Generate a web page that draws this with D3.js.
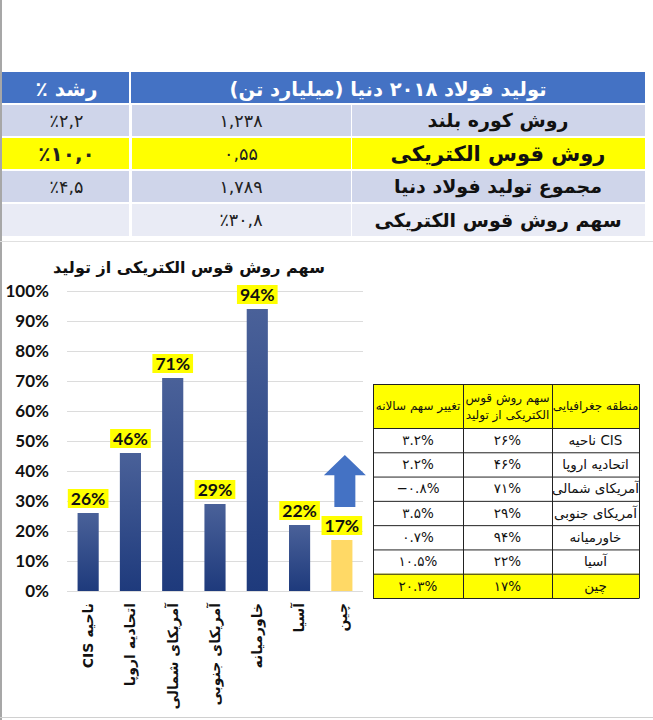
<!DOCTYPE html>
<html>
<head>
<meta charset="utf-8">
<script src="https://cdn.jsdelivr.net/npm/d3@7"></script>
<style>
  html, body { margin: 0; padding: 0; background: #fff; }
  svg { display: block; }
</style>
</head>
<body>
<svg id="chart" width="653" height="720"></svg>
<script>
// top table: world steel production 2018
const topHeader = ["تولید فولاد ۲۰۱۸ دنیا (میلیارد تن)", "رشد ٪"];
const methods = ["روش کوره بلند", "روش قوس الکتریکی", "مجموع تولید فولاد دنیا", "سهم روش قوس الکتریکی"];
const production = ["۱,۲۳۸", "۰,۵۵", "۱,۷۸۹", "٪۳۰,۸"];
const growth = ["٪۲,۲", "٪۱۰,۰", "٪۴,۵", ""];

// bar chart: share of electric arc furnace by region
const chartTitle = "سهم روش قوس الکتریکی از تولید";
const regions = ["ناحیه CIS", "اتحادیه اروپا", "آمریکای شمالی", "آمریکای جنوبی", "خاورمیانه", "آسیا", "چین"];
const eafShare = [26, 46, 71, 29, 94, 22, 17];
const yTicks = [0, 10, 20, 30, 40, 50, 60, 70, 80, 90, 100];

// right table
const sideHeader = ["تغییر سهم سالانه", ["سهم روش قوس", "الکتریکی از تولید"], "منطقه جغرافیایی"];
const shareFa = ["۲۶%", "۴۶%", "۷۱%", "۲۹%", "۹۴%", "۲۲%", "۱۷%"];
const shareChange = ["۳.۲%", "۲.۲%", "−۰.۸%", "۳.۵%", "۰.۷%", "۱۰.۵%", "۲۰.۳%"];

const svg = d3.select("#chart");
const faFont = "'DejaVu Sans', sans-serif";
const latFont = "Lato, 'DejaVu Sans', sans-serif";

// frame lines
svg.append("line").attr("x1", 1).attr("x2", 1).attr("y1", 0).attr("y2", 720)
  .attr("stroke", "#8a8a8a").attr("stroke-width", 1.5);
svg.append("line").attr("x1", 0).attr("x2", 653).attr("y1", 241.5).attr("y2", 241.5)
  .attr("stroke", "#e0e0e0");
svg.append("line").attr("x1", 0).attr("x2", 653).attr("y1", 717.5).attr("y2", 717.5)
  .attr("stroke", "#d0d0d0");

// ---------- top table ----------
const colX = [2, 131, 351, 645];          // growth | production | method
const rowY = [72, 104, 137, 170, 203, 237];
const rowFill = ["#cfd5ea", "#ffff00", "#cfd5ea", "#e9ebf5"];

const topTable = svg.append("g");
topTable.append("rect").attr("x", colX[0]).attr("y", rowY[0])
  .attr("width", colX[1] - colX[0] - 2).attr("height", rowY[1] - rowY[0] - 1).attr("fill", "#4472c4");
topTable.append("rect").attr("x", colX[1]).attr("y", rowY[0])
  .attr("width", colX[3] - colX[1]).attr("height", rowY[1] - rowY[0] - 1).attr("fill", "#4472c4");
topTable.append("text").attr("x", (colX[1] + colX[3]) / 2).attr("y", rowY[0] + 24)
  .attr("text-anchor", "middle").attr("direction", "rtl")
  .attr("font-family", faFont).attr("font-weight", "bold").attr("font-size", 19.5)
  .attr("fill", "#fff").text(topHeader[0]);
topTable.append("text").attr("x", (colX[0] + colX[1]) / 2).attr("y", rowY[0] + 24)
  .attr("text-anchor", "middle").attr("direction", "rtl")
  .attr("font-family", faFont).attr("font-weight", "bold").attr("font-size", 20)
  .attr("fill", "#fff").text(topHeader[1]);

methods.forEach((m, i) => {
  const y0 = rowY[i + 1] + 1, h = rowY[i + 2] - rowY[i + 1] - 2;
  for (let c = 0; c < 3; c++) {
    topTable.append("rect").attr("x", colX[c] + (c ? 1 : 0)).attr("y", y0)
      .attr("width", colX[c + 1] - colX[c] - (c ? 1 : 2)).attr("height", h)
      .attr("fill", rowFill[i]);
  }
  const big = i === 1;
  const cy = y0 + h / 2;
  topTable.append("text").attr("x", (colX[2] + colX[3]) / 2).attr("y", cy).attr("dy", "0.35em")
    .attr("text-anchor", "middle").attr("direction", "rtl")
    .attr("font-family", faFont).attr("font-weight", "bold").attr("font-size", big ? 21 : 19)
    .attr("fill", "#111").text(m);
  topTable.append("text").attr("x", (colX[1] + colX[2]) / 2).attr("y", cy).attr("dy", "0.35em")
    .attr("text-anchor", "middle")
    .attr("font-family", faFont).attr("font-size", 17.5)
    .attr("fill", "#222").text(production[i]);
  topTable.append("text").attr("x", (colX[0] + colX[1]) / 2).attr("y", cy).attr("dy", "0.35em")
    .attr("text-anchor", "middle")
    .attr("font-family", faFont).attr("font-weight", big ? "bold" : "normal").attr("font-size", big ? 20 : 17.5)
    .attr("fill", "#222").text(growth[i]);
});

// ---------- bar chart ----------
const x = d3.scaleBand().domain(regions).range([67, 363])
  .paddingInner(0.5).paddingOuter(0.25);
const y = d3.scaleLinear().domain([0, 100]).range([591, 291]);

const defs = svg.append("defs");
const grad = defs.append("linearGradient").attr("id", "barGrad")
  .attr("x1", 0).attr("x2", 0).attr("y1", 0).attr("y2", 1);
grad.append("stop").attr("offset", "0%").attr("stop-color", "#4a6199");
grad.append("stop").attr("offset", "100%").attr("stop-color", "#1e3a7c");

// gridlines + y axis
const yAxis = svg.append("g").attr("transform", "translate(67,0)")
  .call(d3.axisLeft(y).tickValues(yTicks).tickFormat(d => d + "%").tickSize(0).tickPadding(18));
yAxis.select(".domain").remove();
yAxis.selectAll(".tick text").attr("font-family", latFont).attr("font-weight", "bold")
  .attr("font-size", 17).attr("fill", "#111");
yAxis.selectAll(".tick").append("line").attr("x1", 0).attr("x2", 296)
  .attr("stroke", "#dcdcdc");

svg.append("text").attr("x", 189).attr("y", 273).attr("text-anchor", "middle").attr("direction", "rtl")
  .attr("font-family", faFont).attr("font-weight", "bold").attr("font-size", 16)
  .attr("fill", "#111").text(chartTitle);

const bars = svg.append("g").selectAll("g").data(regions).join("g");
bars.append("rect")
  .attr("x", d => x(d)).attr("width", x.bandwidth())
  .attr("y", (d, i) => y(eafShare[i])).attr("height", (d, i) => y(0) - y(eafShare[i]))
  .attr("fill", (d, i) => i === regions.length - 1 ? "#ffd966" : "url(#barGrad)");

// value labels in yellow boxes
bars.each(function (d, i) {
  const g = d3.select(this);
  const cx = x(d) + x.bandwidth() / 2;
  const by = y(eafShare[i]) - 5;
  const box = g.append("rect").attr("fill", "#ffff00");
  const t = g.append("text").attr("x", cx).attr("y", by - 3)
    .attr("text-anchor", "middle").attr("font-family", latFont)
    .attr("font-weight", "bold").attr("font-size", 17.5).attr("fill", "#111")
    .text(eafShare[i] + "%");
  const w = t.node().getComputedTextLength() + 6;
  box.attr("x", cx - w / 2).attr("y", by - 19).attr("width", w).attr("height", 19);
});

// x labels (rotated)
const xAxis = svg.append("g").attr("transform", "translate(0,591)")
  .call(d3.axisBottom(x).tickSize(0).tickPadding(0));
xAxis.select(".domain").attr("stroke", "#dcdcdc").attr("d", "M67,0.5H363");
xAxis.selectAll(".tick text")
  .attr("transform", "rotate(-90)")
  .attr("x", -12).attr("y", 0).attr("dy", "0.35em")
  .attr("direction", "rtl").attr("text-anchor", "start")
  .attr("font-family", faFont).attr("font-weight", "bold").attr("font-size", 14)
  .attr("fill", "#111");

// arrow above china bar
const ax = x(regions[6]) + x.bandwidth() / 2 + 3;
const arrow = d3.path();
arrow.moveTo(ax, y(45.3));
arrow.lineTo(ax + 21, y(38.6));
arrow.lineTo(ax + 10.5, y(38.6));
arrow.lineTo(ax + 10.5, y(28));
arrow.lineTo(ax - 10.5, y(28));
arrow.lineTo(ax - 10.5, y(38.6));
arrow.lineTo(ax - 21, y(38.6));
arrow.closePath();
svg.append("path").attr("d", arrow.toString()).attr("fill", "#4472c4");

// ---------- right table ----------
const tCol = [373, 463, 552, 639];
const tHeadY = 384, tHeadH = 44;
const tRow = d3.scaleBand().domain(d3.range(regions.length)).range([tHeadY + tHeadH, 598]);
const side = svg.append("g");

side.append("rect").attr("x", tCol[0]).attr("y", tHeadY).attr("width", tCol[3] - tCol[0])
  .attr("height", tHeadH).attr("fill", "#ffff00");
side.append("rect").attr("x", tCol[0]).attr("y", tRow(6)).attr("width", tCol[3] - tCol[0])
  .attr("height", tRow.bandwidth()).attr("fill", "#ffff00");

sideHeader.forEach((h, c) => {
  const cx = (tCol[c] + tCol[c + 1]) / 2;
  const lines = Array.isArray(h) ? h : [h];
  lines.forEach((ln, k) => {
    side.append("text").attr("x", cx)
      .attr("y", tHeadY + tHeadH / 2 + (k - (lines.length - 1) / 2) * 17).attr("dy", "0.35em")
      .attr("text-anchor", "middle").attr("direction", "rtl")
      .attr("font-family", faFont).attr("font-size", 12).attr("fill", "#111").text(ln);
  });
});

regions.forEach((r, i) => {
  const cy = tRow(i) + tRow.bandwidth() / 2;
  side.append("text").attr("x", (tCol[2] + tCol[3]) / 2).attr("y", cy).attr("dy", "0.35em")
    .attr("text-anchor", "middle").attr("font-family", faFont).attr("font-size", 13.5)
    .attr("fill", "#111").text(r);
  side.append("text").attr("x", (tCol[1] + tCol[2]) / 2).attr("y", cy).attr("dy", "0.35em")
    .attr("text-anchor", "middle").attr("font-family", faFont).attr("font-size", 13.5)
    .attr("fill", "#111").text(shareFa[i]);
  side.append("text").attr("x", (tCol[0] + tCol[1]) / 2).attr("y", cy).attr("dy", "0.35em")
    .attr("text-anchor", "middle").attr("font-family", faFont).attr("font-size", 13.5)
    .attr("fill", "#111").text(shareChange[i]);
});

// grid lines of right table
const hLines = [tHeadY, tHeadY + tHeadH].concat(d3.range(1, regions.length).map(i => tRow(i)), [598]);
side.selectAll("line.h").data(hLines).join("line").attr("class", "h")
  .attr("x1", tCol[0]).attr("x2", tCol[3]).attr("y1", d => d + 0.5).attr("y2", d => d + 0.5)
  .attr("stroke", "#222").attr("stroke-width", 1);
side.selectAll("line.v").data(tCol).join("line").attr("class", "v")
  .attr("x1", d => d + 0.5).attr("x2", d => d + 0.5).attr("y1", tHeadY).attr("y2", 598.5)
  .attr("stroke", "#222").attr("stroke-width", 1);
</script>
</body>
</html>
